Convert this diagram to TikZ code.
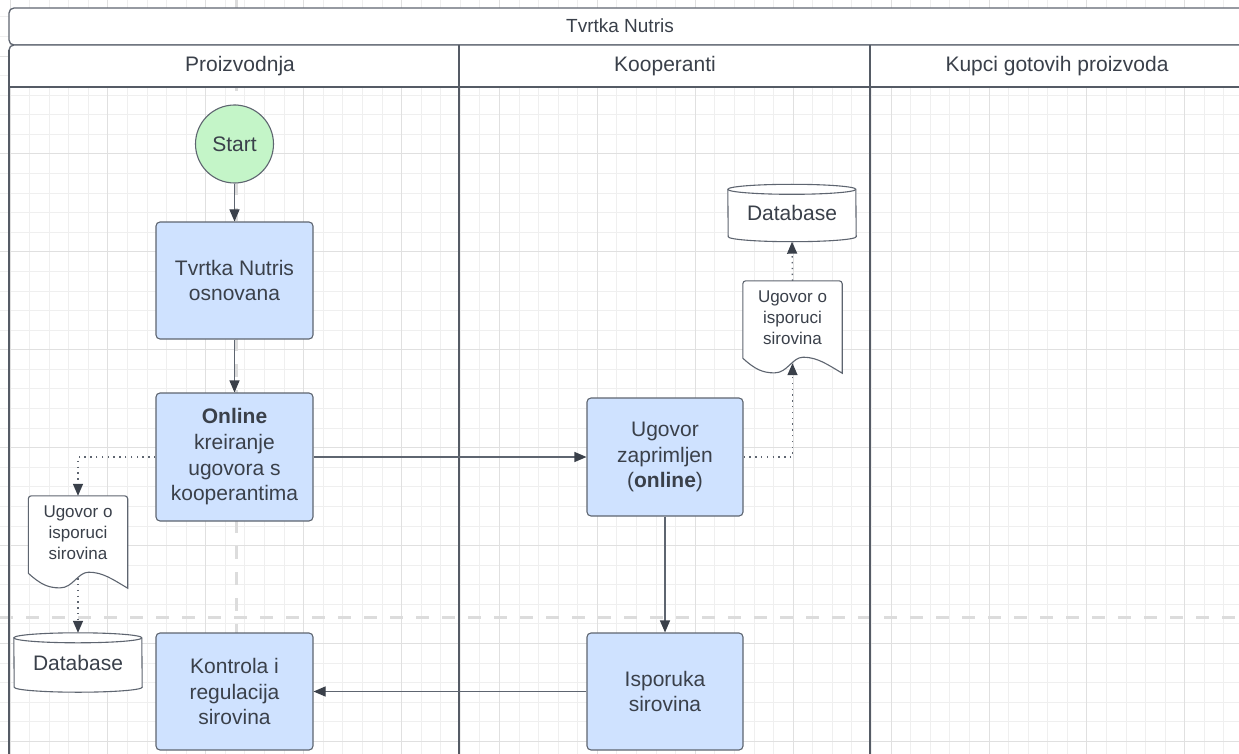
\documentclass[tikz,border=0pt]{standalone}
\usepackage{fontspec}
\setmainfont{Liberation Sans}
\usetikzlibrary{arrows.meta}
\definecolor{boxfill}{RGB}{207,226,255}
\definecolor{startfill}{RGB}{196,245,200}
\definecolor{edgegray}{RGB}{94,101,112}
\definecolor{tipgray}{RGB}{58,64,74}
\definecolor{textgray}{RGB}{58,64,74}
\definecolor{gridminor}{RGB}{239,239,239}
\definecolor{gridmajor}{RGB}{224,224,224}
\definecolor{guidegray}{RGB}{220,220,220}

\pgfdeclarelayer{gridlayer}
\pgfdeclarelayer{shapelayer}
\pgfsetlayers{gridlayer,shapelayer,main}

\newcommand{\boxfont}{\fontsize{21pt}{25.7pt}\selectfont}
\newcommand{\titlefont}{\fontsize{19pt}{23pt}\selectfont}
\newcommand{\headfont}{\fontsize{21pt}{25pt}\selectfont}
\newcommand{\docfont}{\fontsize{17pt}{21pt}\selectfont}

% document sheet with a wavy lower edge, drawn round a named node
\newcommand{\docoutline}[1]{%
  \draw[shapeline, fill=white]
    ([yshift=-3pt]#1.south west) [rounded corners=3pt] -- (#1.north west) -- (#1.north east) [sharp corners] -- ([yshift=-18pt]#1.south east)
    .. controls ([xshift=84.2pt, yshift=-9pt]#1.south west) and ([xshift=74.3pt, yshift=-2pt]#1.south west) .. ([xshift=60.4pt, yshift=-2pt]#1.south west)
    .. controls ([xshift=49.5pt, yshift=-2pt]#1.south west) and ([xshift=44.6pt, yshift=-17.7pt]#1.south west) .. ([xshift=31.7pt, yshift=-17.7pt]#1.south west)
    .. controls ([xshift=19.8pt, yshift=-17.7pt]#1.south west) and ([xshift=11.9pt, yshift=-14pt]#1.south west) .. ([yshift=-3pt]#1.south west) -- cycle;
}
% database cylinder, drawn round a named node
\newcommand{\dboutline}[1]{%
  \draw[shapeline, fill=white] ([yshift=-5pt]#1.north west) arc[start angle=180, end angle=0, x radius=64pt, y radius=5pt]
    -- ([yshift=5pt]#1.south east) arc[start angle=0, end angle=-180, x radius=64pt, y radius=5pt] -- cycle;
  \draw[shapeline] ([yshift=-5pt]#1.north west) arc[start angle=180, end angle=360, x radius=64pt, y radius=5pt];
}

\begin{document}
\begin{tikzpicture}[x=1pt, y=-1pt,
    shapeline/.style={draw=edgegray, line width=1.1pt},
    frameline/.style={draw=edgegray, line width=1.3pt},
    laneline/.style={draw=edgegray!90!black, line width=1.6pt},
    guide/.style={draw=guidegray, line width=3pt, dash pattern=on 13pt off 13pt},
    lanetitle/.style={font=\headfont, text=textgray},
    procbox/.style={rectangle, rounded corners=4pt, draw=edgegray, line width=1.1pt, fill=boxfill,
      minimum width=157pt, minimum height=117pt, align=center, font=\boxfont, text=textgray},
    startnode/.style={circle, draw=edgegray, line width=1.1pt, fill=startfill, minimum size=78pt,
      font=\boxfont, text=textgray},
    dbnode/.style={rectangle, minimum width=128pt, minimum height=57pt, font=\boxfont, text=textgray},
    docnode/.style={rectangle, minimum width=99pt, minimum height=74pt, align=center, font=\docfont, text=textgray},
    flow/.style={draw=edgegray, line width=1.1pt, -{Triangle[length=12pt, width=10pt, color=tipgray]}},
    docflow/.style={flow, line width=1.4pt, dash pattern=on 1.4pt off 4.4pt}]
  \useasboundingbox (0,0) rectangle (1239,754);

  \begin{pgfonlayer}{gridlayer}
    \fill[white] (0,0) rectangle (1239,754);
    % grid, a darker line every 5th
    \foreach \k in {0,...,63}{
      \draw[gridminor, line width=1pt] ({10+19.58*\k},0) -- ({10+19.58*\k},754);
    }
    \foreach \k in {-8,...,31}{
      \draw[gridminor, line width=1pt] (0,{154+19.58*\k}) -- (1239,{154+19.58*\k});
    }
    \foreach \k in {0,...,12}{
      \draw[gridmajor, line width=1pt] ({10+97.9*\k},0) -- ({10+97.9*\k},754);
    }
    \foreach \k in {-1,...,6}{
      \draw[gridmajor, line width=1pt] (0,{154+97.9*\k}) -- (1239,{154+97.9*\k});
    }
    % page break guides
    \draw[guide] (236,0) -- (236,754);
    \draw[guide] (0,617) -- (1239,617);
  \end{pgfonlayer}

  % pool and lanes
  \draw[frameline, fill=white, rounded corners=5pt] (9,8) rectangle (1260,45);
  \fill[white] (9,45) rectangle (1260,87);
  \draw[frameline] (9,87) -- (9,50) arc[start angle=180, end angle=90, radius=5pt] -- (1260,45);
  \draw[laneline] (9,50) -- (9,760);
  \draw[laneline] (459,45) -- (459,760);
  \draw[laneline] (870,45) -- (870,760);
  \draw[laneline, line width=2pt] (9,87) -- (1260,87);
  \node[lanetitle, font=\titlefont] (company) at (620,26) {Tvrtka Nutris};
  \node[lanetitle] (production) at (240,66) {Proizvodnja};
  \node[lanetitle] (cooperants) at (665,66) {Kooperanti};
  \node[lanetitle] (buyers) at (1057,66) {Kupci gotovih proizvoda};

  % steps
  \node[startnode] (start) at (234.5,144) {Start};
  \node[procbox] (founded) at (234.5,280.5) {Tvrtka Nutris\\osnovana};
  \node[procbox, minimum height=128pt] (contract) at (234.5,457) {\textbf{Online}\\kreiranje\\ugovora s\\kooperantima};
  \node[procbox] (control) at (234.5,691.5) {Kontrola i\\regulacija\\sirovina};
  \node[procbox, minimum width=156pt, minimum height=118pt] (received) at (665,457) {Ugovor\\zaprimljen\\(\textbf{online})};
  \node[procbox, minimum width=156pt] (delivery) at (665,691.5) {Isporuka\\sirovina};

  % documents and databases
  \node[docnode] (docL) at (78,533) {Ugovor o\\isporuci\\sirovina};
  \node[docnode] (docR) at (792.5,318) {Ugovor o\\isporuci\\sirovina};
  \node[dbnode, minimum height=59pt] (dbL) at (78,662.5) {Database};
  \node[dbnode] (dbR) at (792,213) {Database};
  \begin{pgfonlayer}{shapelayer}
    \docoutline{docL}
    \docoutline{docR}
    \dboutline{dbL}
    \dboutline{dbR}
  \end{pgfonlayer}

  % connectors
  \draw[flow] (start) -- (founded);
  \draw[flow] (founded) -- (contract);
  \draw[flow] (contract) -- (received);
  \draw[flow] (received) -- (delivery);
  \draw[flow] (delivery) -- (control);
  \draw[docflow] (contract.west) -| (docL.north);
  \draw[docflow] ([yshift=-8pt]docL.south) -- (dbL.north);
  \draw[docflow] (received.east) -| ([yshift=-8pt]docR.south);
  \draw[docflow] (docR.north) -- (dbR.south);
\end{tikzpicture}
\end{document}
